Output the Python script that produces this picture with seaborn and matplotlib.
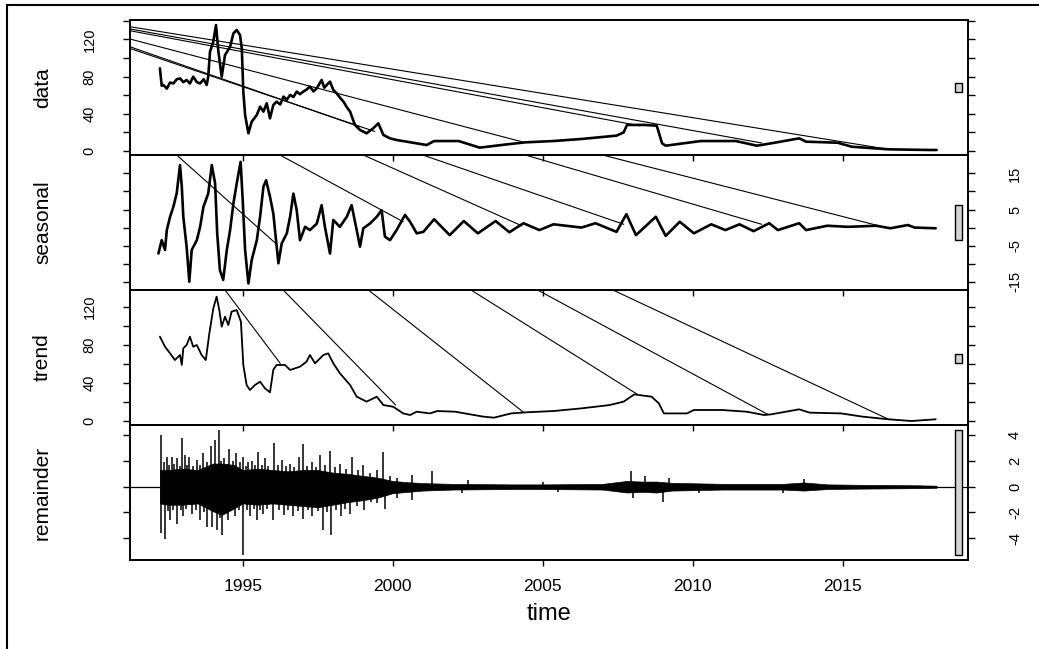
import numpy as np
import matplotlib
matplotlib.use("Agg")
import matplotlib.pyplot as plt
from matplotlib.patches import Rectangle
import seaborn as sns

sns.set_theme(style="white")
plt.rcParams['font.family'] = ['Liberation Sans', 'DejaVu Sans']

# ---- series (time in years) ----
data_t = [1992.24, 1992.30, 1992.36, 1992.47, 1992.58, 1992.69, 1992.80, 1992.91, 1993.02, 1993.13,
          1993.24, 1993.35, 1993.47, 1993.58, 1993.70, 1993.80, 1993.85,
          1993.91, 1994.02, 1994.11, 1994.19, 1994.30, 1994.41, 1994.58, 1994.69, 1994.80, 1994.91,
          1994.97, 1995.02, 1995.08, 1995.19, 1995.30, 1995.47, 1995.58, 1995.69, 1995.80, 1995.91,
          1996.02, 1996.13, 1996.25, 1996.36, 1996.47, 1996.58, 1996.69, 1996.80, 1996.91, 1997.02,
          1997.13, 1997.24, 1997.36, 1997.47, 1997.63, 1997.72, 1997.80,
          1997.91, 1998.02, 1998.13, 1998.25, 1998.36, 1998.47, 1998.58, 1998.74, 1998.91, 1999.13,
          1999.35, 1999.52, 1999.69, 1999.91, 2000.13, 2000.47, 2000.80, 2001.13, 2001.38, 2002.20,
          2002.90, 2003.83,
          2004.42, 2005.35, 2006.29, 2007.46, 2007.70, 2007.81, 2008.40, 2008.80, 2008.98, 2009.10,
          2010.27, 2011.44, 2012.14, 2012.61, 2013.55, 2013.78, 2014.83, 2015.30, 2016.53, 2017.88,
          2018.13]
data_v = [88.8, 70.0, 70.9, 67.0, 73.5, 72.6, 77.0, 78.0, 74.0, 76.2,
          72.5, 79.8, 74.0, 72.6, 77.0, 70.9, 79.8,
          106.7, 117.4, 135.3, 106.7, 79.8, 103.0, 112.0, 126.3, 130.0, 124.5,
          110.0, 63.7, 38.7, 19.0, 31.5, 38.7, 47.6, 42.3, 51.2, 35.1,
          49.4, 53.0, 50.0, 58.4, 55.0, 60.2, 58.0, 63.8, 61.0, 63.8,
          66.0, 69.2, 64.0, 67.4, 76.3, 68.0, 70.9,
          74.5, 65.6, 62.0, 57.0, 53.0, 47.0, 42.3, 28.0, 22.6, 19.0,
          24.4, 29.7, 17.2, 13.6, 11.8, 10.0, 8.2, 6.4, 10.7, 10.7,
          3.6, 7.2,
          9.3, 10.7, 12.9, 16.5, 20.0, 28.0, 28.0, 27.2, 8.2, 5.7,
          10.7, 10.7, 5.7, 8.2, 13.6, 10.0, 8.9, 4.6, 1.8, 1.1,
          1.1]

seas_t = [1992.19, 1992.30, 1992.41, 1992.47, 1992.58, 1992.69, 1992.80, 1992.91, 1992.97, 1993.02,
          1993.13, 1993.22, 1993.30, 1993.47, 1993.58, 1993.69, 1993.85, 1993.97, 1994.08, 1994.15,
          1994.24, 1994.35, 1994.47, 1994.58, 1994.69, 1994.80, 1994.93, 1995.00, 1995.08, 1995.19,
          1995.30, 1995.47, 1995.58, 1995.69, 1995.78, 1995.91, 1996.02, 1996.19, 1996.30, 1996.47,
          1996.58, 1996.69, 1996.80, 1996.91, 1997.08, 1997.24, 1997.47, 1997.63, 1997.74, 1997.91,
          1998.02, 1998.24, 1998.47, 1998.63, 1998.80, 1998.91, 1999.02, 1999.24, 1999.47, 1999.63,
          1999.74, 1999.91, 2000.13, 2000.41, 2000.58, 2000.80, 2001.02, 2001.38, 2001.90, 2002.37,
          2002.84, 2003.43, 2003.89, 2004.36, 2004.89, 2005.36, 2006.29, 2006.76, 2007.46, 2007.79,
          2008.11, 2008.77, 2009.10, 2009.57, 2010.04, 2010.62, 2011.09, 2011.56, 2012.03, 2012.55,
          2012.84, 2013.55, 2013.78, 2014.48, 2015.18, 2016.12, 2016.59, 2017.17, 2017.40, 2018.10]
seas_v = [-7.2, -3.5, -6.2, -0.7, 3.0, 5.8, 9.5, 17.3, 11.3, 3.0,
          -5.3, -15.0, -6.2, -3.5, 0.2, 5.7, 9.4, 17.3, 12.2, -1.6,
          -11.8, -14.5, -6.2, -0.7, 6.7, 12.2, 18.2, 7.6, -6.2, -15.5,
          -9.0, -3.5, 3.0, 11.3, 13.1, 8.5, 3.9, -9.9, -4.4, -1.6,
          3.0, 9.4, 4.8, -3.5, 0.2, -0.7, 1.1, 6.2, 0.2, -7.2,
          2.1, 0.2, 3.0, 6.2, -0.7, -5.3, -0.2, 1.1, 3.0, 4.8,
          -2.5, -3.5, -0.7, 3.5, 1.6, -1.6, -1.2, 2.3, -2.1, 1.8,
          -1.6, 1.8, -1.3, 1.2, -0.7, 0.9, 0.0, 1.2, -1.2, 3.7,
          -2.1, 3.0, -2.3, 1.6, -1.6, 0.9, -0.7, 0.9, -1.0, 1.2,
          -0.7, 1.2, -0.7, 0.5, 0.2, 0.5, -0.2, 0.7, 0.0, -0.2]

trend_t = [1992.24, 1992.41, 1992.58, 1992.74, 1992.91, 1992.97, 1993.02, 1993.13, 1993.24, 1993.35,
           1993.47, 1993.63, 1993.77, 1993.88, 1994.02, 1994.13, 1994.22, 1994.30, 1994.41, 1994.52,
           1994.63, 1994.80, 1994.94, 1995.02, 1995.13, 1995.24, 1995.41, 1995.58, 1995.74, 1995.91,
           1996.02, 1996.13, 1996.41, 1996.58, 1996.91, 1997.13, 1997.24, 1997.41, 1997.69, 1997.85,
           1998.02, 1998.24, 1998.58, 1998.80, 1999.13, 1999.47, 1999.69, 2000.02, 2000.35, 2000.58,
           2000.80, 2001.24, 2001.49, 2002.08, 2003.02, 2003.37, 2003.95, 2004.42, 2005.36, 2006.29,
           2007.23, 2007.70, 2008.05, 2008.63, 2008.87, 2009.04, 2009.81, 2010.04, 2010.98, 2011.80,
           2012.38, 2012.61, 2013.55, 2013.90, 2014.95, 2015.66, 2016.53, 2017.29, 2018.10]
trend_v = [88.8, 78.2, 71.2, 64.2, 69.5, 59.0, 76.5, 80.0, 88.8, 78.2,
           80.0, 69.5, 64.2, 90.5, 118.6, 130.9, 116.8, 99.3, 109.8, 101.0,
           115.1, 116.8, 104.6, 59.0, 37.9, 32.6, 37.9, 41.4, 34.4, 30.2,
           53.9, 59.0, 59.0, 53.7, 57.2, 62.5, 69.5, 60.7, 69.5, 71.2,
           60.7, 50.2, 37.9, 25.6, 20.4, 25.6, 16.8, 15.0, 8.0, 6.3,
           9.8, 8.0, 10.5, 9.8, 4.6, 3.5, 8.0, 9.1, 10.5, 13.3,
           16.8, 20.4, 28.0, 25.6, 18.6, 8.0, 8.0, 11.6, 11.6, 9.8,
           6.3, 7.0, 12.3, 8.8, 8.0, 4.6, 1.8, 0.0, 1.8]

# remainder: envelope of the dense noise core plus the visible spikes
rem_env_t = [1992.24, 1992.5, 1993.0, 1993.5, 1994.0, 1994.3, 1994.7, 1995.0, 1995.5, 1996.0,
             1996.5, 1997.0, 1997.5, 1998.0, 1998.5, 1999.0, 1999.5, 2000.0, 2000.5, 2001.0,
             2002.0, 2003.0, 2004.0, 2005.0, 2006.0, 2007.0, 2007.8, 2008.3, 2008.8, 2009.3,
             2010.0, 2011.0, 2012.0, 2013.0, 2013.7, 2014.5, 2015.5, 2016.5, 2017.5, 2018.13]
rem_upper = [1.3, 1.3, 1.4, 1.3, 1.8, 1.8, 1.7, 1.3, 1.4, 1.3,
             1.2, 1.3, 1.3, 1.1, 1.0, 0.85, 0.7, 0.45, 0.35, 0.28,
             0.22, 0.2, 0.18, 0.18, 0.2, 0.22, 0.45, 0.4, 0.4, 0.3,
             0.27, 0.22, 0.22, 0.22, 0.33, 0.18, 0.15, 0.13, 0.11, 0.08]
rem_lower = [-1.3, -1.4, -1.4, -1.3, -1.9, -2.2, -1.7, -1.3, -1.4, -1.3,
             -1.4, -1.5, -1.6, -1.4, -1.2, -1.05, -0.85, -0.5, -0.4, -0.3,
             -0.22, -0.2, -0.18, -0.18, -0.2, -0.22, -0.45, -0.4, -0.45, -0.3,
             -0.27, -0.22, -0.22, -0.22, -0.3, -0.18, -0.15, -0.13, -0.11, -0.08]
spike_t = [1992.27, 1992.36, 1992.47, 1992.55, 1992.63, 1992.72, 1992.80, 1992.90, 1992.99, 1993.08,
           1993.15, 1993.22, 1993.33, 1993.47, 1993.56, 1993.69, 1993.80, 1993.94, 1994.07, 1994.20,
           1994.29, 1994.39, 1994.47, 1994.54, 1994.66, 1994.78, 1994.90, 1995.02, 1995.10, 1995.19,
           1995.30, 1995.41, 1995.52, 1995.63, 1995.74, 1995.85, 1996.04, 1996.17, 1996.30, 1996.44,
           1996.58, 1996.72, 1996.86, 1997.00, 1997.15, 1997.30, 1997.44, 1997.58, 1997.75, 1997.91,
           1998.08, 1998.24, 1998.44, 1998.63, 1998.83, 1999.02, 1999.25, 1999.47, 1999.66, 1999.90,
           2000.13, 2000.63, 2001.30, 2002.50, 2005.00, 2007.95, 2008.40, 2009.20, 2013.70,
           1992.29, 1992.41, 1992.50, 1992.58, 1992.68, 1992.82, 1992.94, 1993.02, 1993.12, 1993.30,
           1993.44, 1993.58, 1993.72, 1993.80, 1993.97, 1994.13, 1994.24, 1994.30, 1994.43, 1994.52,
           1994.62, 1994.74, 1994.86, 1995.00, 1995.13, 1995.24, 1995.36, 1995.47, 1995.58, 1995.69,
           1995.82, 1996.02, 1996.22, 1996.36, 1996.52, 1996.69, 1996.85, 1997.02, 1997.17, 1997.32,
           1997.50, 1997.67, 1997.82, 1997.93, 1998.10, 1998.26, 1998.42, 1998.58, 1998.80, 1999.04,
           1999.27, 1999.49, 1999.74, 2000.15, 2000.65, 2002.30, 2005.50, 2008.00, 2009.00, 2010.20,
           2013.00]
spike_v = [4.0, 1.9, 2.3, 1.7, 2.3, 1.8, 2.2, 1.6, 3.8, 2.5,
           1.7, 2.3, 1.6, 2.1, 1.7, 2.6, 1.9, 3.2, 3.6, 4.4,
           2.0, 2.2, 1.8, 2.9, 2.0, 2.6, 1.9, 2.3, 1.6, 1.9,
           2.0, 1.7, 2.7, 1.7, 2.2, 1.6, 3.4, 1.7, 2.1, 1.6,
           1.8, 1.5, 2.3, 3.3, 1.6, 1.9, 1.5, 2.5, 1.7, 2.8,
           1.5, 1.8, 1.4, 2.3, 1.3, 1.7, 1.1, 1.3, 2.7, 0.8,
           0.65, 0.9, 1.2, 0.5, 0.4, 1.2, 0.8, 0.7, 0.6,
           -3.6, -4.1, -1.9, -2.6, -1.8, -2.9, -1.8, -2.3, -1.7, -2.1,
           -1.8, -2.6, -2.0, -3.1, -3.1, -3.4, -2.4, -3.75, -2.0, -2.6,
           -1.9, -2.3, -1.8, -5.3, -1.8, -2.3, -1.7, -2.6, -1.8, -2.1,
           -1.7, -2.6, -1.8, -2.2, -1.8, -2.3, -1.9, -2.5, -1.8, -2.3,
           -1.9, -3.4, -2.0, -3.75, -1.8, -2.3, -1.7, -2.1, -1.5, -1.8,
           -1.2, -1.3, -1.7, -0.9, -1.0, -0.5, -0.4, -0.9, -1.2, -0.5,
           -0.5]

# stray connecting segments visible in the panels: (from time, from value, to time, to value)
data_jumps = [(1991.24, 133.5, 2016.53, 1.8), (1991.24, 131.1, 2012.30, 8.6),
              (1991.24, 129.2, 2008.25, 27.0), (1991.24, 120.3, 2004.30, 10.0),
              (1991.24, 112.0, 1998.90, 26.0), (1991.24, 110.2, 1999.40, 21.0)]
seas_jumps = [(1992.80, 20.1, 1996.10, -4.4), (1996.24, 20.1, 2000.35, 1.6),
              (1999.02, 20.1, 2004.30, 0.5), (2001.00, 20.1, 2007.70, 0.9),
              (2004.42, 20.1, 2012.30, 0.9), (2006.99, 20.1, 2016.20, 0.5)]
trend_jumps = [(1994.41, 137.9, 1996.25, 60.7), (1996.35, 137.9, 2000.10, 16.8),
               (1999.19, 137.9, 2004.36, 9.2), (2002.61, 137.9, 2008.16, 28.0),
               (2004.83, 137.9, 2012.50, 7.0), (2007.34, 137.9, 2016.53, 1.8)]

labels = ['data', 'seasonal', 'trend', 'remainder']
year_ticks = [1995, 2000, 2005, 2010, 2015]

# ---- layout (pixels of the 1039x649 target) ----
W, H = 1039, 649
fig = plt.figure(figsize=(W / 100, H / 100), dpi=100)
x0, x1 = 130, 967.7
edges = [20, 155, 290, 425, 560]
xlim = (1991.243, 2019.167)

panels = [
    dict(t=data_t, v=data_v, ylim=(-4.3, 140.7), ticks=range(0, 141, 20),
         show=[0, 40, 80, 120], jumps=data_jumps, lw=1.9),
    dict(t=seas_t, v=seas_v, ylim=(-17.3, 20.1), ticks=range(-15, 16, 5),
         show=[-15, -5, 5, 15], jumps=seas_jumps, lw=1.9),
    dict(t=trend_t, v=trend_v, ylim=(-4.2, 137.9), ticks=range(0, 121, 20),
         show=[0, 40, 80, 120], jumps=trend_jumps, lw=1.3),
    dict(t=None, v=spike_v, ylim=(-5.7, 4.8), ticks=range(-4, 5, 2),
         show=[-4, -2, 0, 2, 4], jumps=[], lw=1.0),
]

# range bars share one height: the smallest range among the components
mx = min(np.ptp(data_v), np.ptp(seas_v), np.ptp(trend_v), np.ptp(spike_v))

for i, p in enumerate(panels):
    top, bot = edges[i], edges[i + 1]
    ax = fig.add_axes([x0 / W, 1 - bot / H, (x1 - x0) / W, (bot - top) / H])
    ax.set_facecolor('none')

    if p['t'] is not None:
        sns.lineplot(x=p['t'], y=p['v'], ax=ax, color='black', linewidth=p['lw'],
                     estimator=None, sort=False)
        for (ta, va, tb, vb) in p['jumps']:
            ax.plot([ta, tb], [va, vb], color='black', linewidth=0.8)
    else:
        ax.fill_between(rem_env_t, rem_lower, rem_upper, color='black', linewidth=0.5)
        ax.vlines(spike_t, 0, spike_v, color='black', linewidth=1.1)
        ax.axhline(0, color='black', linewidth=0.9)

    vals = p['v']
    yc = (max(vals) + min(vals)) / 2
    dx = (xlim[1] - xlim[0]) / 64
    ax.add_patch(Rectangle((xlim[1] - dx, yc - mx / 2), 0.6 * dx, mx,
                           facecolor='#d3d3d3', edgecolor='black', linewidth=1.0,
                           clip_on=False, zorder=5))

    ax.set_xlim(*xlim)
    ax.set_ylim(*p['ylim'])
    for s in ax.spines.values():
        s.set_color('black')
        s.set_linewidth(1.4)

    right = (i % 2 == 1)
    ax.set_yticks(list(p['ticks']))
    ax.set_yticklabels([str(t) if t in p['show'] else '' for t in p['ticks']],
                       rotation=90, va='center', fontsize=10.5)
    ax.tick_params(axis='y', which='both', left=True, right=True, direction='out',
                   length=5, width=1, colors='black',
                   labelleft=not right, labelright=right,
                   pad=24 if right else 19)

    ax.set_xticks(year_ticks)
    ax.tick_params(axis='x', bottom=True, direction='out', length=4, width=1,
                   colors='black', labelbottom=(i == 3), labelsize=12.5, pad=10)
    if i < 3:
        ax.set_xticklabels([])

    ax.set_ylabel(labels[i], fontsize=15, color='black')
    ax.yaxis.set_label_coords((42.5 - x0) / (x1 - x0), 0.5)
    ax.yaxis.label.set_verticalalignment('center')
    ax.set_xlabel('')

    if i == 3:
        ax.set_xlabel('time', fontsize=17, color='black')
        ax.xaxis.set_label_coords(0.5, (bot - 614) / (bot - top))
        ax.xaxis.label.set_verticalalignment('center')

# outer frame of the device
fig.add_artist(Rectangle((7 / W, -0.05), 1.1, 1 - 5 / H + 0.05, transform=fig.transFigure,
                         fill=False, edgecolor='black', linewidth=1.5, clip_on=False))

fig.savefig('out.png', dpi=100)
